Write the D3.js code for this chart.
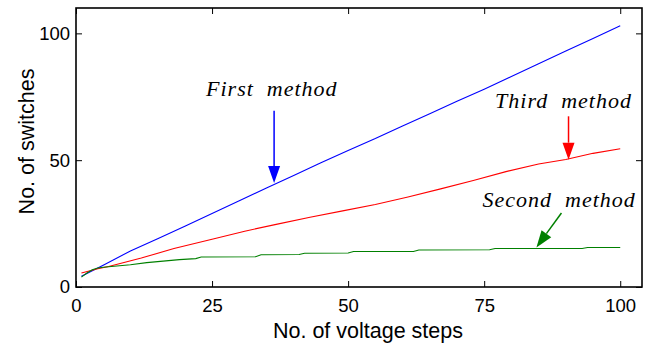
<!DOCTYPE html>
<html>
<head>
<meta charset="utf-8">
<script src="https://cdn.jsdelivr.net/npm/d3@7"></script>
<style>
  html, body { margin: 0; padding: 0; background: #fff; }
  svg text { font-family: "Liberation Sans", Arial, sans-serif; }
  .note { font-family: "Liberation Serif", "Times New Roman", serif; font-style: italic; white-space: pre; }
</style>
</head>
<body>
<div id="chart"></div>
<script>
// values (x = voltage steps, y = switches)
const firstSteps = [1, 5, 10, 15, 20, 25, 30, 35, 40, 45, 50, 55, 60, 65, 70, 75, 80, 85, 90, 95, 100];
const firstSwitches = [4.2, 8.6, 14.2, 19, 24, 29, 34, 39, 44, 49, 53.8, 58.5, 63.5, 68.3, 73.2, 78, 83, 88, 93, 98, 103];

const secondSteps = [1, 2, 3, 4, 5, 7, 10, 13, 16, 19, 22, 23, 33, 34, 41, 42, 50, 51, 62, 63, 76, 77, 93, 94, 100];
const secondSwitches = [3.9, 5.5, 6.8, 7.5, 7.8, 8.2, 8.8, 9.6, 10.2, 10.8, 11.2, 11.8, 11.9, 12.7, 12.8, 13.3, 13.4, 14, 14, 14.6, 14.7, 15.2, 15.2, 15.6, 15.6];

const thirdSteps = [1, 4, 6, 12, 18, 25, 31, 37, 43, 49, 55, 61, 67, 73, 79, 85, 90, 95, 100];
const thirdSwitches = [5.5, 7.2, 8.1, 11.4, 15.2, 18.8, 22, 24.8, 27.5, 30, 32.5, 35.5, 38.7, 42, 45.5, 48.5, 50.3, 52.7, 54.5];

const xTicks = [0, 25, 50, 75, 100];
const yTicks = [0, 50, 100];

const width = 648;
const height = 351;
const margin = { top: 8, right: 6, bottom: 64, left: 76 };

const series = [
  { name: "First method", color: "#0000ff", steps: firstSteps, values: firstSwitches },
  { name: "Third method", color: "#ff0000", steps: thirdSteps, values: thirdSwitches },
  { name: "Second method", color: "#008000", steps: secondSteps, values: secondSwitches },
];

// annotation text + arrow, in data units
const notes = [
  { text: "First  method", color: "#0000ff", tx: 23.9, ty: 75.3, from: [36.4, 69.5], to: [36.4, 41] },
  { text: "Third  method", color: "#ff0000", tx: 77.0, ty: 70.6, from: [90.5, 67.3], to: [90.5, 50.2] },
  { text: "Second  method", color: "#008000", tx: 74.7, ty: 31.5, from: [89.2, 29.2], to: [84.6, 15.6] },
];

const x = d3.scaleLinear([0, 104], [margin.left, width - margin.right]);
const y = d3.scaleLinear([0, 110], [height - margin.bottom, margin.top]);

const svg = d3.select("#chart").append("svg")
  .attr("width", width)
  .attr("height", height);

const line = d3.line()
  .x((d) => x(d[0]))
  .y((d) => y(d[1]));

svg.append("g")
  .attr("fill", "none")
  .attr("stroke-width", 1.1)
  .selectAll("path")
  .data(series)
  .join("path")
  .attr("stroke", (d) => d.color)
  .attr("d", (d) => line(d3.zip(d.steps, d.values)));

// axes, ticks pointing inward like the original
const tick = 6;
svg.append("g")
  .attr("transform", `translate(0,${y(0)})`)
  .call(d3.axisBottom(x).tickValues(xTicks).tickSizeInner(-tick).tickSizeOuter(0).tickPadding(12))
  .call((g) => g.select(".domain").remove());
svg.append("g")
  .attr("transform", `translate(0,${margin.top})`)
  .call(d3.axisTop(x).tickValues(xTicks).tickSizeInner(-tick).tickSizeOuter(0).tickFormat(""))
  .call((g) => g.select(".domain").remove());
svg.append("g")
  .attr("transform", `translate(${x(0)},0)`)
  .call(d3.axisLeft(y).tickValues(yTicks).tickSizeInner(-tick).tickSizeOuter(0).tickPadding(6))
  .call((g) => g.select(".domain").remove());
svg.append("g")
  .attr("transform", `translate(${width - margin.right},0)`)
  .call(d3.axisRight(y).tickValues(yTicks).tickSizeInner(-tick).tickSizeOuter(0).tickFormat(""))
  .call((g) => g.select(".domain").remove());

svg.selectAll(".tick line").attr("stroke", "#000").attr("stroke-width", 1);
svg.selectAll(".tick text")
  .attr("font-size", 18.5)
  .attr("font-family", "Liberation Sans, Arial, sans-serif")
  .attr("fill", "#000");

svg.append("rect")
  .attr("x", x(0))
  .attr("y", margin.top)
  .attr("width", x(104) - x(0))
  .attr("height", y(0) - margin.top)
  .attr("fill", "none")
  .attr("stroke", "#000")
  .attr("stroke-width", 1.6);

svg.append("text")
  .attr("x", 368)
  .attr("y", 338)
  .attr("text-anchor", "middle")
  .attr("font-size", 21.5)
  .text("No. of voltage steps");

svg.append("text")
  .attr("transform", `translate(33.5,141.5) rotate(-90)`)
  .attr("text-anchor", "middle")
  .attr("font-size", 21.5)
  .text("No. of switches");

// annotations
const ng = svg.append("g");
notes.forEach((n) => {
  ng.append("text")
    .attr("class", "note")
    .attr("x", x(n.tx))
    .attr("y", y(n.ty))
    .attr("font-size", 22)
    .attr("letter-spacing", 1)
    .attr("fill", "#000")
    .text(n.text);

  const x1 = x(n.from[0]), y1 = y(n.from[1]);
  const x2 = x(n.to[0]), y2 = y(n.to[1]);
  const ang = Math.atan2(y2 - y1, x2 - x1);
  const headLen = 17, headW = 6;
  const bx = x2 - headLen * Math.cos(ang), by = y2 - headLen * Math.sin(ang);
  ng.append("line")
    .attr("x1", x1).attr("y1", y1)
    .attr("x2", bx).attr("y2", by)
    .attr("stroke", n.color)
    .attr("stroke-width", 1.5);
  const px = -Math.sin(ang) * headW, py = Math.cos(ang) * headW;
  ng.append("path")
    .attr("d", `M${x2},${y2}L${bx + px},${by + py}L${bx - px},${by - py}Z`)
    .attr("fill", n.color);
});
</script>
</body>
</html>
